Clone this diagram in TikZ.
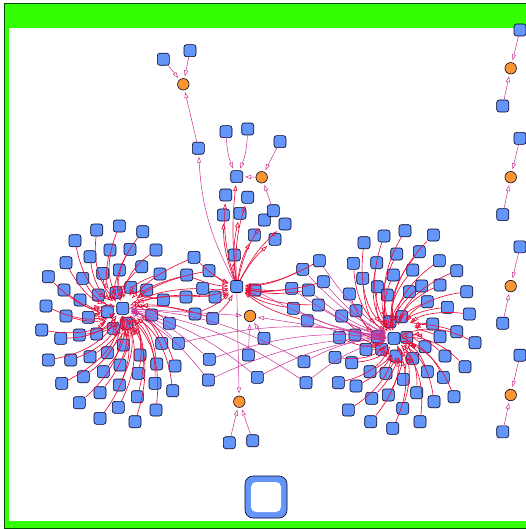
\documentclass[tikz,border=0pt]{standalone}
\usepackage{tikz}
\usetikzlibrary{shapes,arrows,arrows.meta}
\usepackage{color}
\definecolor{nodeblue}{RGB}{100,150,250}
\definecolor{hitorange}{RGB}{250,150,50}
\definecolor{linkred}{RGB}{230,15,60}
\definecolor{linkpink}{RGB}{200,50,150}
\definecolor{framegreen}{RGB}{51,255,0}
\tikzset{
  every gene node/.style={
    draw=black!85!blue,line width=0.6pt,inner sep=0pt,
  },
}
\begin{document}
\begin{tikzpicture}[x=1pt,y=-1pt,
        gene/.style={
             rectangle
            , rounded corners=2.5pt
            , fill=nodeblue
            , minimum size=12pt
            , every gene node
        },
        hit/.style={
             circle
            , fill=hitorange
            , minimum size=11.5pt
            , every gene node
        },
        link/.style={
             draw=linkpink
            , line width=0.5pt
            , -{Triangle[open,length=6pt,width=4pt]}
            , shorten >=2pt
        },
        hublink/.style={
             link
            , draw=linkred
            , line width=0.65pt
            , bend right=24
        }
        ]
        \useasboundingbox (0,0) rectangle (526,529);
        \clip (0,0) rectangle (526,529);

        \fill[white] (9,28) rectangle (540,521);
        \fill[framegreen] (4,3) rectangle (540,28);
        \fill[framegreen] (4,3) rectangle (9,528);
        \fill[framegreen] (4,521) rectangle (540,528);
        \draw[green!30!black,line width=0.8pt] (4,3) rectangle (540,528);

        \node[gene] (lefthub) at (122.7,308.3) {};
        \node[gene] (righthub) at (394,338.3) {};
        \node[gene] (midhub) at (236.7,286.5) {};

        \foreach \x/\y [count=\i] in {96.7/230,119.3/226,142.7/231.7,75/240.7,110/250,130/249.3,
            156/250,90/256.7,141.7/266.7,66/262.7,48.3/276.7,82.7/278.3,102.7/273.3,119.3/270,
            160/274,64/290,98.3/295,116/292.7,130.7/287.3,146.7/290,163.3/300,46/306,80/300,
            107.3/311.7,151.7/315,169.3/323.3,66/316,88.3/317.3,41.7/330,60.7/338.3,79.3/335,
            96.7/334,113.3/328.3,126.7/323.3,123.3/345,140/355,161.7/343.3,48.3/360,70.7/360,
            90/356.7,107.3/352.7,103.3/371.7,120/365,138.3/373.3,156.7/364,175/366,61.7/383.3,
            83.3/376.7,119.3/385,155/383.3,172.7/390.7,100/392.7,137.3/396.7,79.3/402.7,
            118.3/407.3,156/410,100/418.3,135/421.7}
            \node[gene] (left\i) at (\x,\y) {};

        \foreach \x/\y [count=\i] in {405/230.7,384/236,433.3/235,364/242.7,396.7/254,419.3/251.7,
            353.3/263.3,376.7/262.7,439.3/260.7,456.7/270.7,362.7/278.3,393.3/275,412.7/270,
            440/285,421.7/286,466.7/291.7,349.3/294,377.3/286.7,387.3/295,409.3/291.7,
            427.3/301.7,447.3/307.3,469.3/314,341.7/316,356/310.7,390/321.7,401.7/316.7,
            432.7/324,456.7/331.7,475/342.7,339.3/337.3,355/335,377.3/336.7,406.7/337.3,
            440/336.7,366/349.3,381.7/349.3,396/356,412.7/358.3,425/346.7,445/356,465/366.7,
            335/357.3,351.7/362.7,370/371.7,386/373.3,403.3/379.3,427.3/371.7,443.3/377.3,
            338.3/382.7,356/386,371.7/398.3,388.3/395,416.7/392.7,434/401.7,454/396.7,
            348.3/410,402.7/408.3,370.7/421.7,392.7/428.3,420/421.7}
            \node[gene] (right\i) at (\x,\y) {};

        \foreach \x/\y [count=\i] in {194/257.3,209/270.7,186.7/275,186/297,202.7/288.3,
            215/297,195/314,212.7/318.3}
            \node[gene] (midleft\i) at (\x,\y) {};
        \foreach \x/\y [count=\i] in {319.3/260.7,302.7/269.3,323.3/281.7,308.3/290,318.3/305,
            307.3/320.7,291.7/288.3,293.3/308.3,255/290}
            \node[gene] (midright\i) at (\x,\y) {};
        \foreach \x/\y [count=\i] in {225.7/195,247.7/197.3,223.3/215,240/213.3,264.3/220,
            285/224,254.3/235,275/239.3,234.3/255}
            \node[gene] (midup\i) at (\x,\y) {};
        \foreach \x/\y [count=\i] in {178.3/343.3,209.3/359.3,208.3/380,257.3/377.3,304/361.7,
            306/382.7}
            \node[gene] (between\i) at (\x,\y) {};

        \node[hit] (hittop) at (183.3,84.3) {};
        \node[gene] (top1) at (163.3,59.3) {};
        \node[gene] (top2) at (190,50.7) {};
        \node[gene] (top3) at (198.3,148.3) {};
        \node[hit] (hitup) at (261.7,177.3) {};
        \node[gene] (stem) at (236.7,176.7) {};
        \node[gene] (stem1) at (226,131.7) {};
        \node[gene] (stem2) at (247.7,129) {};
        \node[gene] (stem3) at (280,141.7) {};
        \node[gene] (stem4) at (273.3,210.7) {};
        \node[hit] (hitmid) at (250,316) {};
        \node[gene] (low1) at (264,338.3) {};
        \node[gene] (low2) at (248.3,355) {};
        \node[hit] (hitlow) at (239.3,401.7) {};
        \node[gene] (foot1) at (229.3,442.7) {};
        \node[gene] (foot2) at (252.7,440.7) {};

        \foreach \i in {0,...,3} {
            \node[gene] (coltop\i) at (520,{30+108.4*\i}) {};
            \node[hit] (colhit\i) at (510.7,{68.3+108.9*\i}) {};
            \node[gene] (colbot\i) at (502.7,{106+108.6*\i}) {};
            \draw[link] (coltop\i) -- (colhit\i);
            \draw[link] (colbot\i) -- (colhit\i);
        }

        \node[rectangle,rounded corners=8pt,fill=nodeblue,draw=black!85!blue,
            line width=0.6pt,minimum size=42pt] (bigsquare) at (266,497) {};
        \node[rectangle,rounded corners=5pt,fill=white,minimum size=30pt] (bigsquarein)
            at (bigsquare) {};

        \foreach \i in {1,...,58}
            \draw[hublink,shorten >={mod(\i,6)*3pt+1pt}] (left\i) to (lefthub);
        \foreach \i in {1,...,61}
            \draw[hublink,shorten >={mod(\i,6)*3pt+1pt}] (right\i) to (righthub);
        \foreach \i in {1,...,8} {
            \draw[hublink,bend right=12,shorten >={mod(\i,4)*4pt+1pt}] (midleft\i) to (lefthub);
            \draw[hublink,bend right=10] (midleft\i) to (midhub);
        }
        \foreach \i in {1,...,9} {
            \draw[hublink,bend left=12] (midright\i) to (midhub);
            \draw[link,bend right=10] (midright\i) to (righthub);
        }
        \foreach \i in {1,...,9} \draw[hublink,bend left=10] (midhub) to (midup\i);
        \foreach \i in {1,...,6} {
            \draw[link,bend right=12] (between\i) to (lefthub);
            \draw[link,bend left=12] (between\i) to (righthub);
        }

        \draw[link] (top1) -- (hittop);
        \draw[link] (top2) -- (hittop);
        \draw[link] (top3) -- (hittop);
        \draw[link,bend left=12] (midhub) to (top3);
        \draw[link] (stem1) to[bend right=10] (stem);
        \draw[link] (stem2) to[bend left=10] (stem);
        \draw[link] (stem3) -- (hitup);
        \draw[link] (stem4) -- (hitup);
        \draw[link] (hitup) -- (stem);
        \draw[hublink,bend left=6] (midhub) to (stem);
        \draw[link] (lefthub) -- (hitmid);
        \draw[link] (righthub) -- (hitmid);
        \draw[link] (low1) -- (hitmid);
        \draw[link] (low2) -- (hitmid);
        \draw[link] (midhub) -- (hitlow);
        \draw[link] (foot1) -- (hitlow);
        \draw[link] (foot2) -- (hitlow);

    \end{tikzpicture}
\end{document}
